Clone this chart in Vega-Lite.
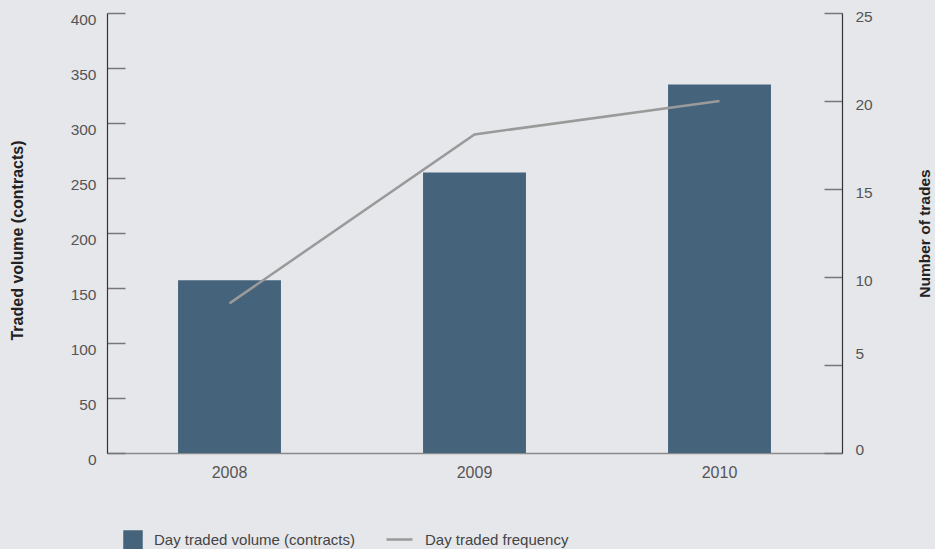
{
  "$schema": "https://vega.github.io/schema/vega-lite/v6.json",
  "width": 735,
  "height": 440,
  "autosize": {"type": "none"},
  "padding": {"left": 107, "top": 13, "right": 93, "bottom": 96},
  "background": "#e6e7eb",
  "config": {
    "view": {"stroke": null},
    "font": "Liberation Sans",
    "axis": {"grid": false, "labelFont": "Liberation Sans", "titleFont": "Liberation Sans"},
    "legend": {"labelFont": "Liberation Sans"}
  },
  "data": {
    "values": [
      {"year": "2008", "volume": 157, "trades": 8.5},
      {"year": "2009", "volume": 255, "trades": 18.1},
      {"year": "2010", "volume": 335, "trades": 20}
    ]
  },
  "encoding": {
    "x": {
      "field": "year",
      "type": "nominal",
      "scale": {"paddingInner": 0, "paddingOuter": 0},
      "axis": {
        "title": null,
        "labelAngle": 0,
        "ticks": false,
        "labelPadding": 11,
        "labelFontSize": 16,
        "labelColor": "#555555",
        "domainColor": "#8a8a8a",
        "domainWidth": 1.5
      }
    }
  },
  "layer": [
    {
      "mark": {"type": "bar", "width": {"band": 0.42}},
      "encoding": {
        "y": {
          "field": "volume",
          "type": "quantitative",
          "scale": {"domain": [0, 400]},
          "axis": {
            "title": "Traded volume (contracts)",
            "titleFontSize": 16,
            "titleFontWeight": "bold",
            "titleColor": "#222222",
            "titleX": -82,
            "titleY": 227,
            "values": [0, 50, 100, 150, 200, 250, 300, 350, 400],
            "labelFontSize": 15.5,
            "labelColor": "#555555",
            "labelOffset": 6,
            "labelPadding": 29,
            "tickSize": -18,
            "tickColor": "#777777",
            "tickWidth": 1.5,
            "domainColor": "#333333",
            "domainWidth": 1.2
          }
        },
        "fill": {
          "datum": "Day traded volume (contracts)",
          "type": "nominal",
          "scale": {"range": ["#45637b"]},
          "legend": {
            "title": null,
            "orient": "none",
            "legendX": 16,
            "legendY": 517,
            "symbolType": "square",
            "symbolSize": 380,
            "symbolStrokeWidth": 0,
            "labelFontSize": 15,
            "labelLimit": 400,
            "labelColor": "#444444",
            "labelOffset": 11
          }
        }
      }
    },
    {
      "mark": {"type": "line", "strokeWidth": 2.5},
      "encoding": {
        "y": {
          "field": "trades",
          "type": "quantitative",
          "scale": {"domain": [0, 25]},
          "axis": {
            "orient": "right",
            "title": "Number of trades",
            "titleFontSize": 15.5,
            "titleFontWeight": "bold",
            "titleColor": "#222222",
            "titleAngle": 270,
            "titleX": 90,
            "titleY": 220,
            "values": [0, 5, 10, 15, 20, 25],
            "labelFontSize": 15.5,
            "labelColor": "#555555",
            "labelOffset": {"condition": [{"test": "datum.value == 5", "value": -12}, {"test": "datum.value == 0", "value": -4}], "value": 3},
            "labelPadding": 31,
            "tickSize": -18,
            "tickColor": "#777777",
            "tickWidth": 1.5,
            "domainColor": "#333333",
            "domainWidth": 1.2
          }
        },
        "stroke": {
          "datum": "Day traded frequency",
          "type": "nominal",
          "scale": {"range": ["#9a9a9a"]},
          "legend": {
            "title": null,
            "orient": "none",
            "legendX": 278,
            "legendY": 512,
            "symbolType": "stroke",
            "symbolSize": 676,
            "symbolStrokeWidth": 2.5,
            "labelFontSize": 15,
            "labelLimit": 400,
            "labelColor": "#444444",
            "labelOffset": 11
          }
        }
      }
    }
  ],
  "resolve": {"scale": {"y": "independent"}}
}
